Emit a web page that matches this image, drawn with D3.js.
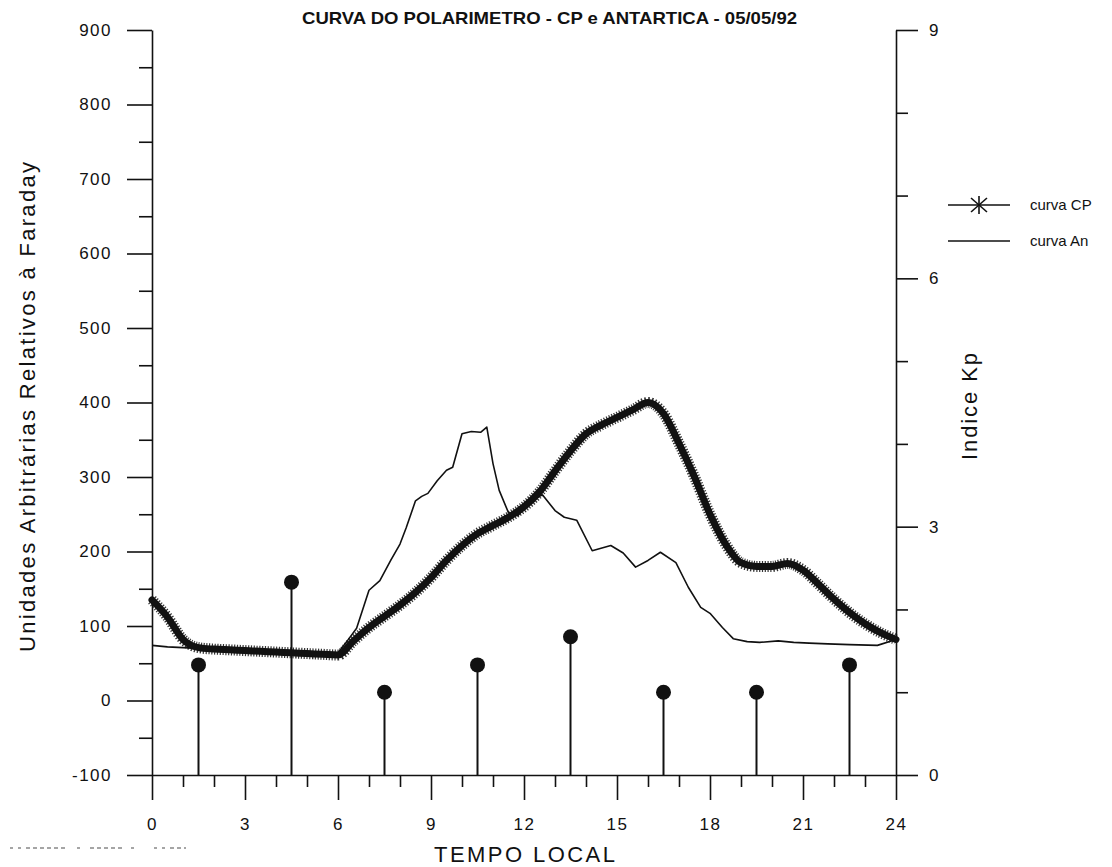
<!DOCTYPE html>
<html>
<head>
<meta charset="utf-8">
<script src="https://cdn.jsdelivr.net/npm/d3@7"></script>
<style>
  body { margin: 0; background: #fff; }
  svg { display: block; font-family: "Liberation Sans", Arial, sans-serif; }
  .axis path, .axis line { stroke: #111; stroke-width: 1.6; }
  .axis text { fill: #111; font-size: 17px; letter-spacing: 1.5px; }
</style>
</head>
<body>
<script>
// curva CP (polarimetro) - leituras a cada meia hora
var cpHours = [0,0.5,1,1.5,2,2.5,3,3.5,4,4.5,5,5.5,6,6.5,7,7.5,8,8.5,9,9.5,10,10.5,11,11.5,12,
               12.5,13,13.5,14,14.5,15,15.5,16,16.5,17,17.5,18,18.5,19,19.5,20,20.5,21,21.5,22,22.5,23,23.5,24];
var cpValues = [135,112,82,71,69,68,67,66,65,64,63,62,61,80,98,113,128,145,165,188,208,224,235,246,260,
                280,308,335,358,370,380,390,400,385,345,300,250,210,185,180,180,184,175,156,136,118,103,91,82];

// curva An (Antartica)
var anHours = [0,0.5,1,1.5,2,3,4,5,5.5,6,6.3,6.6,7,7.35,7.7,8,8.2,8.5,8.7,8.9,9.2,9.5,9.7,10,10.3,10.6,10.8,
               11,11.2,11.5,11.8,12.2,12.6,13,13.3,13.7,14.2,14.8,15.2,15.6,16,16.4,16.9,17.3,17.7,18,18.4,
               18.75,19.2,19.6,20.2,20.7,21.2,21.8,22.5,23.4,24];
var anValues = [74,72,71,70,69,67,65,63,62,64,80,97,148,161,188,210,232,268,274,278,295,309,313,358,361,360,367,
                318,282,252,248,268,276,255,246,242,201,208,198,179,188,199,185,152,125,117,98,
                83,79,78,80,78,77,76,75,74,82];

// indice Kp (intervalos de 3 horas)
var kpHours = [1.5,4.5,7.5,10.5,13.5,16.5,19.5,22.5];
var kpValues = [1.33,2.33,1,1.33,1.67,1,1,1.33];

var xTicks = [0,3,6,9,12,15,18,21,24];
var leftTicks = [-100,0,100,200,300,400,500,600,700,800,900];
var rightTicks = [0,3,6,9];

var width = 1112, height = 867;

var x = d3.scaleLinear().domain([0, 24]).range([152, 896]);
var yL = d3.scaleLinear().domain([-100, 900]).range([775, 30]);
var yR = d3.scaleLinear().domain([0, 9]).range([775, 30]);

var fmt = function(d) { return String(d); };

var svg = d3.select("body").append("svg")
    .attr("width", width)
    .attr("height", height);

// minor ticks first
svg.append("g").attr("class", "axis")
    .attr("transform", "translate(152,0)")
    .call(d3.axisLeft(yL).tickValues(d3.range(-50, 900, 100)).tickSize(13).tickFormat(""))
    .select(".domain").remove();
svg.append("g").attr("class", "axis")
    .attr("transform", "translate(0,775)")
    .call(d3.axisBottom(x).tickValues(d3.range(0, 25).filter(function(d) { return d % 3 !== 0; }))
      .tickSize(12).tickFormat(""))
    .select(".domain").remove();
svg.append("g").attr("class", "axis")
    .attr("transform", "translate(896,0)")
    .call(d3.axisRight(yR).tickValues([1,2,4,5,7,8]).tickSize(12).tickFormat(""))
    .select(".domain").remove();

// major axes
svg.append("g").attr("class", "axis")
    .attr("transform", "translate(152,0)")
    .call(d3.axisLeft(yL).tickValues(leftTicks).tickFormat(fmt).tickSize(25).tickSizeOuter(0).tickPadding(15));
svg.append("g").attr("class", "axis")
    .attr("transform", "translate(0,775)")
    .call(d3.axisBottom(x).tickValues(xTicks).tickFormat(fmt).tickSize(25).tickSizeOuter(0).tickPadding(18));
svg.append("g").attr("class", "axis")
    .attr("transform", "translate(896,0)")
    .call(d3.axisRight(yR).tickValues(rightTicks).tickFormat(fmt).tickSize(22).tickSizeOuter(0).tickPadding(11));

// Kp stems
svg.selectAll(".stem")
    .data(kpHours)
  .enter().append("line")
    .attr("class", "stem")
    .attr("x1", function(d) { return x(d); })
    .attr("x2", function(d) { return x(d); })
    .attr("y1", yR(0))
    .attr("y2", function(d, i) { return yR(kpValues[i]); })
    .attr("stroke", "#111")
    .attr("stroke-width", 2);

svg.selectAll(".kpdot")
    .data(kpHours)
  .enter().append("circle")
    .attr("class", "kpdot")
    .attr("cx", function(d) { return x(d); })
    .attr("cy", function(d, i) { return yR(kpValues[i]); })
    .attr("r", 7.5)
    .attr("fill", "#111");

// curva An
var anLine = d3.line()
    .x(function(d, i) { return x(anHours[i]); })
    .y(function(d) { return yL(d); })
    .curve(d3.curveLinear);

svg.append("path")
    .attr("d", anLine(anValues))
    .attr("fill", "none")
    .attr("stroke", "#111")
    .attr("stroke-width", 1.6)
    .attr("stroke-linejoin", "round");

// curva CP - thick band of asterisks
var cpLine = d3.line()
    .x(function(d, i) { return x(cpHours[i]); })
    .y(function(d) { return yL(d); })
    .curve(d3.curveMonotoneX);

svg.append("path")
    .attr("d", cpLine(cpValues))
    .attr("fill", "none")
    .attr("stroke", "#111")
    .attr("stroke-width", 11)
    .attr("stroke-dasharray", "1.2,1.6")
    .attr("stroke-opacity", 0.85);
svg.append("path")
    .attr("d", cpLine(cpValues))
    .attr("fill", "none")
    .attr("stroke", "#111")
    .attr("stroke-width", 7)
    .attr("stroke-linejoin", "round")
    .attr("stroke-linecap", "round");

// title
svg.append("text")
    .attr("x", 302).attr("y", 24)
    .attr("textLength", 495)
    .attr("lengthAdjust", "spacingAndGlyphs")
    .style("font-size", "17px")
    .style("font-weight", "bold")
    .attr("fill", "#111")
    .text("CURVA DO POLARIMETRO - CP e ANTARTICA - 05/05/92");

// axis titles
svg.append("text")
    .attr("transform", "translate(35,652) rotate(-90)")
    .attr("textLength", 490)
    .style("font-size", "22px")
    .attr("fill", "#111")
    .text("Unidades Arbitrárias Relativos à Faraday");

svg.append("text")
    .attr("transform", "translate(977,460) rotate(-90)")
    .attr("textLength", 107)
    .style("font-size", "22px")
    .attr("fill", "#111")
    .text("Indice Kp");

svg.append("text")
    .attr("x", 434).attr("y", 862)
    .attr("textLength", 181)
    .style("font-size", "22px")
    .attr("fill", "#111")
    .text("TEMPO LOCAL");

// legend
var legend = svg.append("g").attr("transform", "translate(948,0)");
legend.append("line").attr("x1", 0).attr("x2", 62).attr("y1", 205).attr("y2", 205)
    .attr("stroke", "#111").attr("stroke-width", 1.6);
[[0, -9, 0, 9], [-8, -7, 8, 7], [-8, 7, 8, -7]].forEach(function(s) {
  legend.append("line")
      .attr("x1", 31 + s[0]).attr("y1", 205 + s[1])
      .attr("x2", 31 + s[2]).attr("y2", 205 + s[3])
      .attr("stroke", "#111").attr("stroke-width", 1.6);
});
legend.append("line").attr("x1", 0).attr("x2", 62).attr("y1", 241).attr("y2", 241)
    .attr("stroke", "#111").attr("stroke-width", 1.6);
legend.append("text").attr("x", 82).attr("y", 210).style("font-size", "15px").attr("fill", "#111").text("curva CP");
legend.append("text").attr("x", 82).attr("y", 246).style("font-size", "15px").attr("fill", "#111").text("curva An");

// scan residue at bottom-left
svg.append("line")
    .attr("x1", 10).attr("x2", 186).attr("y1", 848).attr("y2", 848)
    .attr("stroke", "#888").attr("stroke-width", 1.5)
    .attr("stroke-dasharray", "3,5,3,5,4,3,4,3,4,3,4,3,4,3,4,12,3,10,4,3,4,3,4,3,4,3,4,9,3,20");
</script>
</body>
</html>
